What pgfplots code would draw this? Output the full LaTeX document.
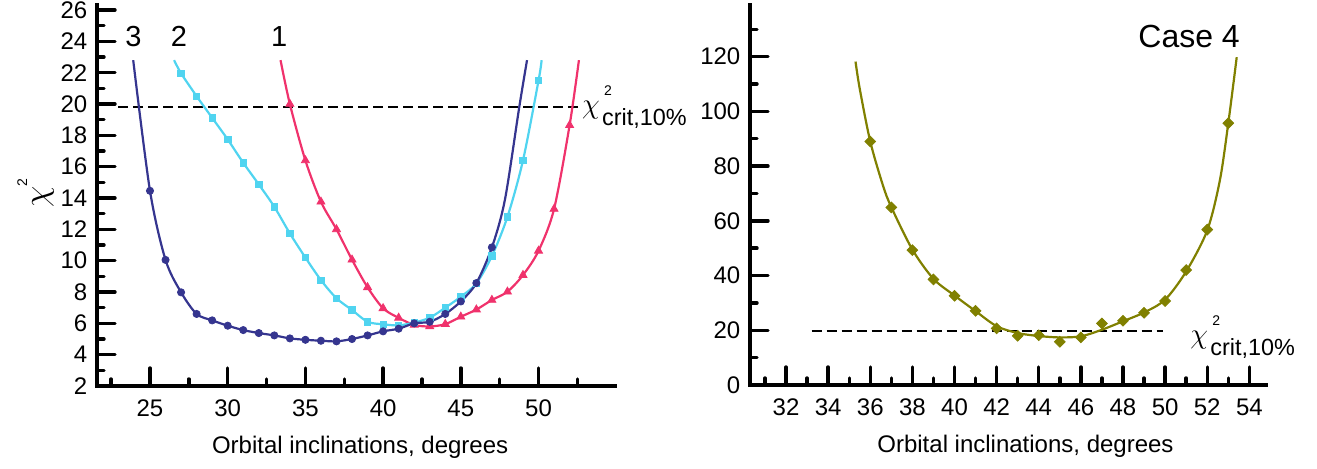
\documentclass[border=0pt]{standalone}
\usepackage{fontspec}
\setmainfont{Liberation Sans}
\usepackage{pgfplots}
\pgfplotsset{compat=1.18}
\definecolor{cthree}{HTML}{35358F}
\definecolor{ctwo}{HTML}{50D4F0}
\definecolor{cone}{HTML}{F0326C}
\definecolor{cfour}{HTML}{808000}
\pgfplotsset{myax/.style={
  scale only axis, axis x line*=bottom, axis y line*=left,
  axis line style={draw=none},
  tick align=inside, major tick length=9pt, minor tick length=3.5pt,
  every tick/.style={black, line width=1.7pt, line cap=round},
  every major tick/.style={black, line width=1.7pt, line cap=round},
  every minor tick/.style={black, line width=1.7pt, line cap=round},
  tick label style={font=\fontsize{12}{12}\selectfont},
  /pgf/number format/assume math mode=true,
  xticklabel style={yshift=-3.5pt}, yticklabel style={xshift=-1.3pt},
  label style={font=\fontsize{12}{12}\selectfont},
  clip=false,
  after end axis/.code={\draw[black, line width=2.1pt] (rel axis cs:0,1) -- (rel axis cs:0,0) -- (rel axis cs:1,0);},
}}
\newcommand{\critlabel}{\rlap{\raisebox{6pt}{\fontsize{14}{14}\selectfont$\chi$}}\rlap{\hspace{11pt}\raisebox{15pt}{\fontsize{7}{7}\selectfont 2}}\hspace{10pt}\fontsize{11.7}{12}\selectfont crit,10\%}
\begin{document}
\begin{tikzpicture}
\path[use as bounding box] (0,0) rectangle (658.5pt,234pt);
% ---------------- left panel
\begin{axis}[myax, at={(48.5pt,41pt)}, anchor=origin,
  width=260pt, height=191.35pt,
  xmin=21.59, xmax=55.05, ymin=2, ymax=26.43,
  xtick={25,30,...,50}, minor xtick={22.5,27.5,...,52.5},
  ytick={2,4,...,26}, minor ytick={3,5,...,25},
  xlabel={Orbital inclinations, degrees},
  xlabel style={at={(axis description cs:0.506,0)}, anchor=base, yshift=-33.5pt},
]
\addplot[black, line width=1pt, dash pattern=on 5pt off 2.5pt] coordinates {(22.96,19.8) (52.86,19.8)};
% curve 1
\addplot[cone, line width=1.1pt, smooth] coordinates {
(33.4,22.8) (34,20.0) (35,16.4) (36,13.76) (37,12.0) (38,10.06) (39,8.3) (40,6.96) (41,6.35) (42,5.9) (43,5.8) (44,5.95) (45,6.42) (46,6.88) (47,7.49) (48,8.02) (49,9.08) (50,10.63) (51,13.3) (52,18.65) (52.6,22.8)};
\addplot[cone, only marks, mark=triangle*, mark size=2.3pt] coordinates {
(34,20.0) (35,16.4) (36,13.76) (37,12.0) (38,10.06) (39,8.3) (40,6.96) (41,6.35) (42,5.9) (43,5.8) (44,5.95) (45,6.42) (46,6.88) (47,7.49) (48,8.02) (49,9.08) (50,10.63) (51,13.3) (52,18.65)};
% curve 2
\addplot[ctwo, line width=1.1pt, smooth] coordinates {
(26.55,22.8) (27,21.96) (28,20.5) (29,19.12) (30,17.74) (31,16.25) (32,14.87) (33,13.44) (34,11.74) (35,10.2) (36,8.76) (37,7.6) (38,6.85) (39,6.1) (40,5.94) (41,5.87) (42,6.05) (43,6.36) (44,7.0) (45,7.7) (46,8.55) (47,10.3) (48,12.8) (49,16.4) (50,21.5) (50.2,22.8)};
\addplot[ctwo, only marks, mark=square*, mark size=1.6pt] coordinates {
(27,21.96) (28,20.5) (29,19.12) (30,17.74) (31,16.25) (32,14.87) (33,13.44) (34,11.74) (35,10.2) (36,8.76) (37,7.6) (38,6.85) (39,6.1) (40,5.94) (41,5.87) (42,6.05) (43,6.36) (44,7.0) (45,7.7) (46,8.55) (47,10.3) (48,12.8) (49,16.4) (50,21.5)};
% curve 3
\addplot[cthree, line width=1.1pt, smooth] coordinates {
(23.92,22.8) (25,14.46) (26,10.05) (27,7.98) (28,6.6) (29,6.19) (30,5.85) (31,5.57) (32,5.38) (33,5.23) (34,5.04) (35,4.95) (36,4.89) (37,4.85) (38,5.0) (39,5.23) (40,5.49) (41,5.66) (42,6.0) (43,6.1) (44,6.6) (45,7.4) (46,8.57) (47,10.85) (47.84,13.9) (48.76,19.8) (49.26,22.8)};
\addplot[cthree, only marks, mark=*, mark size=1.8pt] coordinates {
(25,14.46) (26,10.05) (27,7.98) (28,6.6) (29,6.19) (30,5.85) (31,5.57) (32,5.38) (33,5.23) (34,5.04) (35,4.95) (36,4.89) (37,4.85) (38,5.0) (39,5.23) (40,5.49) (41,5.66) (42,6.0) (43,6.1) (44,6.6) (45,7.4) (46,8.57) (47,10.85)};
\node[anchor=base, font=\fontsize{14.5}{15}\selectfont] at (axis cs:23.93,23.66) {3};
\node[anchor=base, font=\fontsize{14.5}{15}\selectfont] at (axis cs:26.87,23.66) {2};
\node[anchor=base, font=\fontsize{14.5}{15}\selectfont] at (axis cs:33.32,23.66) {1};
\node[anchor=base west, inner sep=0pt] at (axis cs:52.78,18.66) {\critlabel};
\node[rotate=90, anchor=center, inner sep=0pt] at (axis description cs:-0.118,0.504) {\fontsize{17}{17}\selectfont$\chi$\raisebox{10pt}{\fontsize{7}{7}\selectfont 2}};
\end{axis}
% ---------------- right panel
\begin{axis}[myax, at={(375pt,41.5pt)}, anchor=origin,
  width=259.15pt, height=190.85pt,
  xmin=30.29, xmax=54.9, ymin=0, ymax=139.5,
  xtick={32,34,...,54}, minor xtick={31,33,...,53},
  ytick={0,20,...,120}, minor ytick={10,30,...,130},
  xlabel={Orbital inclinations, degrees},
  xlabel style={at={(axis description cs:0.5315,0)}, anchor=base, yshift=-33.5pt},
]
\addplot[black, line width=1pt, dash pattern=on 5pt off 2.5pt] coordinates {(33.22,19.8) (49.92,19.8)};
\addplot[cfour, line width=1.1pt, smooth] coordinates {
(35.3,118.2) (35.5,108.3) (36,89) (36.6,73) (37,65) (38,49.5) (39,38.8) (40,32.7) (41,27.0) (42,21.5) (43,19.0) (44,17.9) (45,17.4) (46,17.8) (47,20.2) (48,23.3) (49,26.5) (50,31.2) (51,41.5) (52,56.5) (52.6,74.8) (53,95.7) (53.4,119.8)};
\addplot[cfour, only marks, mark=square*, mark size=1.9pt, mark options={rotate=45}] coordinates {
(36,89) (37,64.9) (38,49.3) (39,38.6) (40,32.6) (41,27.1) (42,20.7) (43,18.0) (44,18.2) (45,15.8) (46,17.4) (47,22.5) (48,23.5) (49,26.4) (50,30.7) (51,42.0) (52,56.8) (53,95.7)};
\node[anchor=base, font=\fontsize{16}{17}\selectfont] at (axis cs:51.14,123.4) {Case 4};
\node[anchor=base west, inner sep=0pt] at (axis cs:51.18,10.96) {\critlabel};
\end{axis}
\end{tikzpicture}
\end{document}
